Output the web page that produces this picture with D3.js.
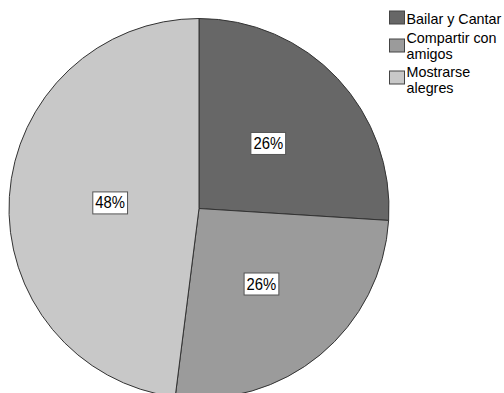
<!DOCTYPE html>
<html><head><meta charset="utf-8">
<script src="https://cdn.jsdelivr.net/npm/d3@7/dist/d3.min.js"></script>
<style>body{margin:0;background:#fff;} svg{display:block;}</style>
</head><body>
<svg id="c" width="504" height="393"></svg>
<script>
const categories = ["Bailar y Cantar", "Compartir con amigos", "Mostrarse alegres"];
const legendLines = [["Bailar y Cantar"], ["Compartir con", "amigos"], ["Mostrarse", "alegres"]];
const values = [26, 26, 48];
const labels = ["26%", "26%", "48%"];
const colors = ["#676767", "#9b9b9b", "#c8c8c8"];

const svg = d3.select("#c");
const cx = 199, cy = 208.5, R = 190;
const g = svg.append("g").attr("transform", `translate(${cx},${cy})`);
const pie = d3.pie().sort(null).value(d => d);
const arcs = pie(values);
const arc = d3.arc().innerRadius(0).outerRadius(R);
g.selectAll("path").data(arcs).join("path")
  .attr("d", arc).attr("fill", (d,i) => colors[i])
  .attr("stroke", "#333").attr("stroke-width", 1);

const labelR = [95, 98, 89];
const fontF = "Arial, 'Liberation Sans', sans-serif";
arcs.forEach((d, i) => {
  const a = (d.startAngle + d.endAngle) / 2;
  const x = Math.sin(a) * labelR[i], y = -Math.cos(a) * labelR[i];
  const lg = g.append("g").attr("transform", `translate(${x},${y})`);
  const t = lg.append("text").attr("text-anchor", "middle").attr("y", 5.5)
    .attr("transform", "scale(0.9,1)")
    .attr("font-family", fontF).attr("font-size", 16.5).attr("fill", "#000").text(labels[i]);
  const bb = t.node().getBBox();
  const w = bb.width * 0.9 + 5;
  lg.insert("rect", "text").attr("x", -w / 2).attr("y", -11).attr("width", w).attr("height", 22)
    .attr("fill", "#fff").attr("stroke", "#555").attr("stroke-width", 1);
});

const leg = svg.append("g");
const sqY = [11, 39, 71];
const baseY = [24, 43, 77];
categories.forEach((c, i) => {
  leg.append("rect").attr("x", 389.5).attr("y", sqY[i]).attr("width", 15).attr("height", 13)
    .attr("fill", colors[i]).attr("stroke", "#444").attr("stroke-width", 1);
  legendLines[i].forEach((ln, j) => {
    leg.append("text").attr("transform", `translate(406.5,${baseY[i] + j * 15.5}) scale(1.04,1)`)
      .attr("font-family", fontF).attr("font-size", 13.8).attr("fill", "#000").text(ln);
  });
});
</script>
</body></html>
